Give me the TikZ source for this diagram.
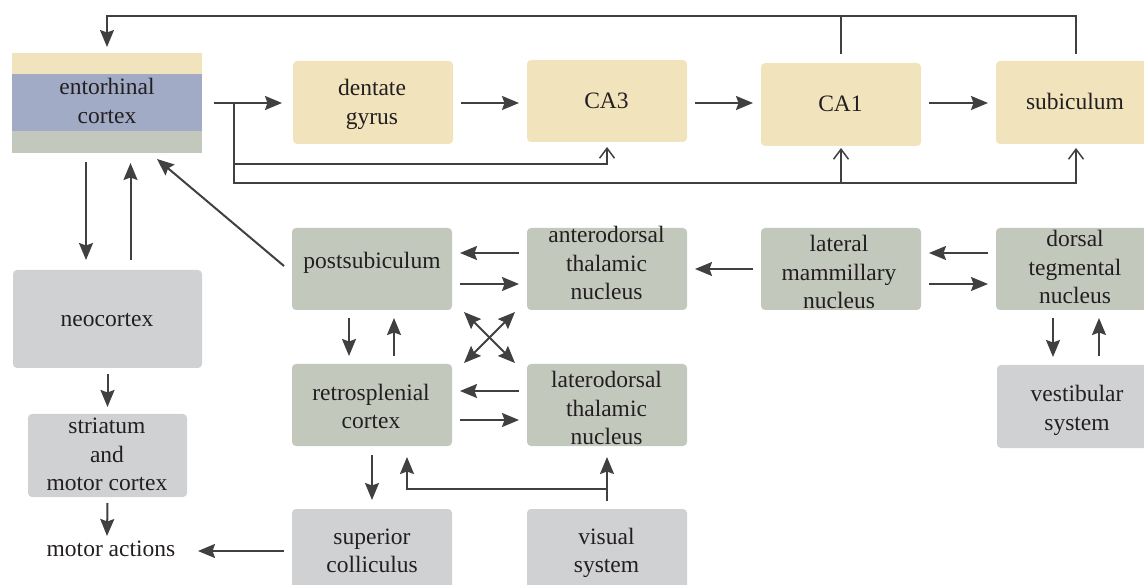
\documentclass[tikz,border=0pt]{standalone}
\usepackage{fontspec}
\setmainfont{Liberation Serif}
\usetikzlibrary{arrows.meta}
\definecolor{yel}{HTML}{F1E4BC}
\definecolor{grn}{HTML}{C3C8BD}
\definecolor{gry}{HTML}{D0D1D3}
\definecolor{ecb}{HTML}{A1ABC6}
\definecolor{lc}{HTML}{404040}
\definecolor{txt}{HTML}{231F20}
\begin{document}
\begin{tikzpicture}[x=1pt,y=-1pt,
  box/.style={rounded corners=4pt, inner sep=0pt, outer sep=0pt, anchor=north west, minimum width=160pt, minimum height=82pt},
  ybox/.style={box, fill=yel},
  gbox/.style={box, fill=grn},
  lbox/.style={box, fill=gry},
  lab/.style={font=\fontsize{23.5}{28.5}\selectfont, text=txt, inner sep=0pt, anchor=base},
  arr/.style={draw=lc, line width=2pt, -{Stealth[length=17pt,width=14pt,inset=2.5pt]}},
  darr/.style={draw=lc, line width=2pt, {Stealth[length=17pt,width=14pt,inset=2.5pt]}-{Stealth[length=17pt,width=14pt,inset=2.5pt]}},
  ln/.style={draw=lc, line width=1.7pt},
  fb/.style={draw=lc, line width=1.5pt, -{Straight Barb[length=10pt,width=15pt]}},
  gap/.style={shorten <=8pt, shorten >=8pt}]
\useasboundingbox (0,0) rectangle (1144,585);

% ---------- boxes ----------
\node[anchor=north west, minimum width=190pt, minimum height=100pt, inner sep=0pt, outer sep=0pt, fill=ecb] (ec) at (12,53) {};
\fill[yel] (ec.north west) rectangle ([yshift=-21pt]ec.north east);
\fill[grn] ([yshift=22pt]ec.south west) rectangle (ec.south east);

\node[ybox, minimum height=83pt] (dg) at (293,61) {};
\node[ybox] (ca3) at (527,60) {};
\node[ybox, minimum height=83pt] (ca1) at (761,63) {};
\node[ybox, minimum height=83pt] (sub) at (996,61) {};

\node[gbox] (ps) at (292,228) {};
\node[gbox] (ad) at (527,228) {};
\node[gbox] (lm) at (761,228) {};
\node[gbox] (dt) at (996,228) {};
\node[gbox] (rs) at (292,364) {};
\node[gbox] (ld) at (527,364) {};

\node[lbox, minimum width=189pt, minimum height=98pt] (neo) at (13,270) {};
\node[lbox, minimum width=159pt, minimum height=83pt] (str) at (28,414) {};
\node[lbox, minimum height=83pt] (vs) at (997,365) {};
\node[lbox, minimum height=90pt] (sc) at (292,509) {};
\node[lbox, minimum height=90pt] (vis) at (527,509) {};

% ---------- texts ----------
\node[lab] (tec) at (107,95) {\begin{tabular}[t]{@{}c@{}}entorhinal\\cortex\end{tabular}};
\node[lab] (tdg) at (372,96) {\begin{tabular}[t]{@{}c@{}}dentate\\gyrus\end{tabular}};
\node[lab] (tca3) at (606.5,109) {CA3};
\node[lab] (tca1) at (840.5,112) {CA1};
\node[lab] (tsub) at (1075,110) {subiculum};
\node[lab] (tps) at (372,269) {postsubiculum};
\node[lab] (tad) at (606.5,243) {\begin{tabular}[t]{@{}c@{}}anterodorsal\\thalamic\\nucleus\end{tabular}};
\node[lab] (tlm) at (839,252) {\begin{tabular}[t]{@{}c@{}}lateral\\mammillary\\nucleus\end{tabular}};
\node[lab] (tdt) at (1075,247) {\begin{tabular}[t]{@{}c@{}}dorsal\\tegmental\\nucleus\end{tabular}};
\node[lab] (trs) at (371,400) {\begin{tabular}[t]{@{}c@{}}retrosplenial\\cortex\end{tabular}};
\node[lab] (tld) at (606.5,388) {\begin{tabular}[t]{@{}c@{}}laterodorsal\\thalamic\\nucleus\end{tabular}};
\node[lab] (tvs) at (1077,402) {\begin{tabular}[t]{@{}c@{}}vestibular\\system\end{tabular}};
\node[lab] (tneo) at (107,327) {neocortex};
\node[lab] (tstr) at (107,434) {\begin{tabular}[t]{@{}c@{}}striatum\\and\\motor cortex\end{tabular}};
\node[lab] (ma) at (111,556) {motor actions};
\node[lab] (tsc) at (372,544) {\begin{tabular}[t]{@{}c@{}}superior\\colliculus\end{tabular}};
\node[lab] (tvis) at (606.5,544) {\begin{tabular}[t]{@{}c@{}}visual\\system\end{tabular}};

% ---------- hippocampal loop ----------
\coordinate (br) at ([xshift=32pt]ec.east);
\draw[arr, shorten <=12pt, shorten >=11pt] (ec.east) -- (dg.west |- ec.east);
\draw[arr, gap] (dg.east |- 0,103) -- (ca3.west |- 0,103);
\draw[arr, gap] (ca3.east |- 0,103) -- (ca1.west |- 0,103);
\draw[arr, gap] (ca1.east |- 0,103) -- (sub.west |- 0,103);

\draw[fb] (br) |- (ca3.south |- 0,164) -- ([yshift=-5pt]ca3.south);
\draw[fb] (br) |- (sub.south |- 0,183) -- ([yshift=-4pt]sub.south);
\draw[fb] (ca1.south |- 0,183) -- ([yshift=-2pt]ca1.south);

\draw[ln, -{Stealth[length=17pt,width=14pt,inset=2.5pt]}] ([yshift=7pt]sub.north) -- (sub.north |- 0,16) -| ([yshift=6pt]ec.north);
\draw[ln] ([yshift=9pt]ca1.north) -- (ca1.north |- 0,16);

% ---------- left column ----------
\draw[arr, shorten <=9pt, shorten >=10pt] ([xshift=-21pt]ec.south) -- ([xshift=-21pt]ec.south |- neo.north);
\draw[arr, shorten <=10pt, shorten >=10pt] ([xshift=23pt]neo.north) -- ([xshift=23pt]neo.north |- ec.south);
\draw[arr, shorten <=6pt, shorten >=7pt] (neo.south) -- (neo.south |- str.north);
\draw[arr] ([yshift=-6pt]str.south) -- (107,536);
\draw[arr] ([xshift=-8pt]sc.west |- 0,551) -- (198,551);

% ---------- diagonal ----------
\draw[arr] ([shift={(-8pt,3pt)}]ps.west) -- ([shift={(-45pt,-6pt)}]ec.south east);

% ---------- thalamic block ----------
\draw[arr, gap] (ad.west |- 0,253) -- (ps.east |- 0,253);
\draw[arr, gap] (ps.east |- 0,284) -- (ad.west |- 0,284);
\draw[arr, gap] (ld.west |- 0,391) -- (rs.east |- 0,391);
\draw[arr, gap] (rs.east |- 0,420) -- (ld.west |- 0,420);
\draw[arr, gap] (lm.west) -- (ad.east);
\draw[arr, gap] (dt.west |- 0,253) -- (lm.east |- 0,253);
\draw[arr, gap] (lm.east |- 0,284) -- (dt.west |- 0,284);

\draw[arr, gap] ([xshift=-23pt]ps.south) -- ([xshift=-23pt]ps.south |- rs.north);
\draw[arr, gap] ([xshift=22pt]rs.north) -- ([xshift=22pt]rs.north |- ps.south);
\draw[arr, gap] ([xshift=-23pt]dt.south) -- ([xshift=-23pt]dt.south |- vs.north);
\draw[arr, shorten <=9pt, shorten >=8pt] ([xshift=22pt]vs.north) -- ([xshift=22pt]vs.north |- dt.south);

\draw[darr] ([shift={(12pt,-2pt)}]ps.south east) -- ([shift={(-12pt,1pt)}]ld.north west);
\draw[darr] ([shift={(-12pt,-2pt)}]ad.south west) -- ([shift={(12pt,1pt)}]rs.north east);

% ---------- bottom ----------
\draw[arr, shorten <=9pt, shorten >=9pt] (rs.south) -- (rs.south |- sc.north);
\draw[arr] ([yshift=8pt]vis.north) -- ([yshift=-11pt]ld.south);
\draw[arr] (vis.north |- 0,489) -| ([shift={(35pt,-11pt)}]rs.south);
\end{tikzpicture}
\end{document}
